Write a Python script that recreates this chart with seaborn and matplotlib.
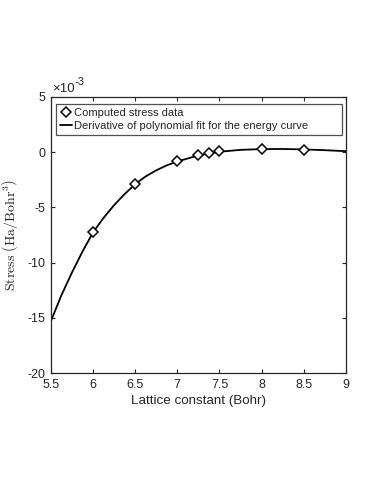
import matplotlib
matplotlib.use('Agg')
import matplotlib.pyplot as plt
import seaborn as sns

# stress data (x 1e-3 Ha/Bohr^3)
lattice_pts = [6.0, 6.5, 7.0, 7.25, 7.375, 7.5, 8.0, 8.5]
stress_pts = [-7.27, -2.9, -0.85, -0.28, -0.1, 0.08, 0.24, 0.22]

# derivative of the polynomial fit
lattice_fit = [5.5, 5.625, 5.75, 5.875, 6.0, 6.125, 6.25, 6.375, 6.5, 6.625, 6.75,
               6.875, 7.0, 7.25, 7.5, 7.75, 8.0, 8.25, 8.5, 8.75, 9.0]
stress_fit = [-15.3, -12.95, -10.9, -9.0, -7.27, -5.95, -4.8, -3.8, -2.9, -2.2, -1.65,
              -1.2, -0.85, -0.3, 0.03, 0.2, 0.27, 0.28, 0.24, 0.17, 0.08]

sns.set_style('white')
plt.rcParams['font.family'] = ['Liberation Sans', 'DejaVu Sans']
plt.rcParams['mathtext.fontset'] = 'cm'
plt.rcParams['axes.unicode_minus'] = False

fig = plt.figure(figsize=(3.74, 4.84), dpi=100)
ax = fig.add_axes([0.136, 0.229, 0.789, 0.571])

sns.lineplot(x=lattice_pts, y=stress_pts, ax=ax, color='black', linestyle='',
             marker='D', markersize=4.8, markerfacecolor='white', markeredgecolor='black',
             markeredgewidth=1.1, label='Computed stress data', zorder=3)
sns.lineplot(x=lattice_fit, y=stress_fit, ax=ax, color='black', linewidth=1.3,
             label='Derivative of polynomial fit for the energy curve', zorder=2)

ax.set_xlim(5.5, 9)
ax.set_ylim(-20, 5)
ax.set_xticks([5.5, 6, 6.5, 7, 7.5, 8, 8.5, 9])
ax.set_xticklabels(['5.5', '6', '6.5', '7', '7.5', '8', '8.5', '9'])
ax.set_yticks([-20, -15, -10, -5, 0, 5])
ax.tick_params(direction='in', length=3, width=0.8, bottom=True, left=True,
               top=True, right=True, labelsize=9, colors='#262626', pad=4)
for s in ax.spines.values():
    s.set_color('#262626')
    s.set_linewidth(0.9)

ax.set_xlabel('Lattice constant (Bohr)', fontsize=9.6, color='#262626', labelpad=3)
ax.set_ylabel(r'$\mathrm{Stress}\ \left(\mathrm{Ha/Bohr}^3\right)$', fontsize=10,
              color='#262626', labelpad=5)
ax.text(0.003, 1.008, '\u00d710', transform=ax.transAxes, fontsize=9.5,
        color='#262626', ha='left', va='bottom')
ax.text(0.08, 1.037, '-3', transform=ax.transAxes, fontsize=8,
        color='#262626', ha='left', va='bottom')

leg = ax.legend(loc='upper left', bbox_to_anchor=(0.017, 0.975, 0.969, 0),
                mode='expand', borderaxespad=0, fontsize=8, frameon=True,
                fancybox=False, handlelength=1.1, handletextpad=0.2,
                borderpad=0.35, labelspacing=0.3)
leg.get_frame().set_edgecolor('#262626')
leg.get_frame().set_linewidth(0.9)

fig.savefig('out.png', dpi=100)
